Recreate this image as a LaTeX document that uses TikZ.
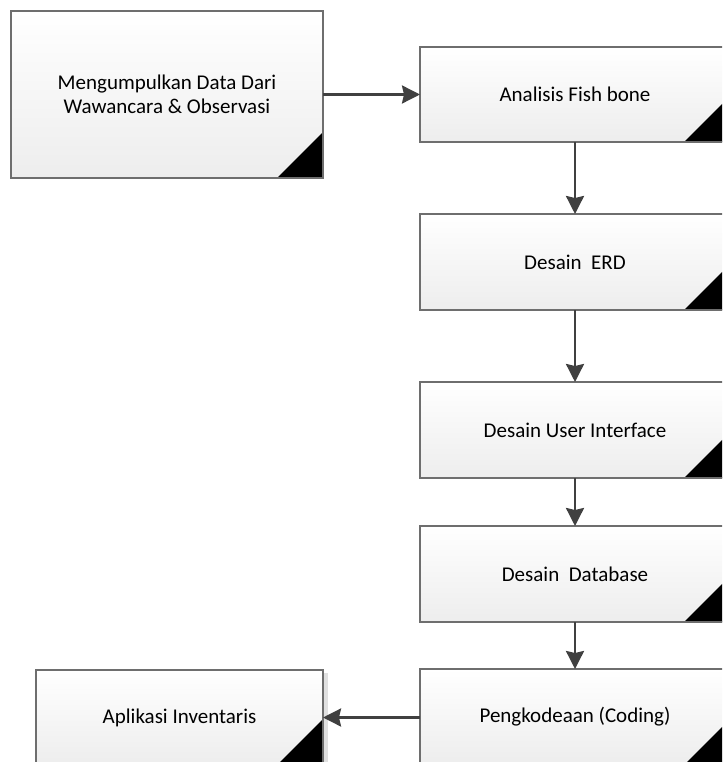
\documentclass[tikz,border=0pt]{standalone}
\usepackage{fontspec}
\setmainfont{Carlito}
\usetikzlibrary{arrows.meta,shadows}
\definecolor{boxline}{HTML}{6E6E6E}
\definecolor{boxbot}{HTML}{EDEDED}
\definecolor{arrowc}{HTML}{404040}
\tikzset{
  procbox/.style={draw=boxline, line width=1.2pt, top color=white, bottom color=boxbot,
    align=center, font=\fontsize{21}{24}\selectfont, inner sep=0pt, outer sep=0pt,
    path picture={\fill[black] (path picture bounding box.south east) -- ++(-46pt,0pt) -- ++(46pt,46pt) -- cycle;}},
  flow/.style={draw=arrowc, line width=2.6pt, -{Stealth[length=18pt,width=18pt,inset=2pt]}}
}
\begin{document}
\begin{tikzpicture}[x=1pt,y=-1pt]
\useasboundingbox (0,0) rectangle (722,762);
\clip (0,0) rectangle (722,762);
\node[procbox, minimum width=312pt, minimum height=167pt] (collect) at (167,94.5) {Mengumpulkan Data Dari\\Wawancara \& Observasi};
\node[procbox, minimum width=310pt, minimum height=95pt] (fish) at (575,94.5) {Analisis Fish bone};
\node[procbox, minimum width=310pt, minimum height=96pt] (erd) at (575,262) {Desain\ \ ERD};
\node[procbox, minimum width=310pt, minimum height=96pt] (ui) at (575,430) {Desain User Interface};
\node[procbox, minimum width=310pt, minimum height=96pt] (db) at (575,574) {Desain\ \ Database};
\node[procbox, minimum width=310pt, minimum height=96pt] (code) at (575,717) {Pengkodeaan (Coding)};
\node[procbox, minimum width=287pt, minimum height=95pt,
  general shadow={fill=black!12, shadow xshift=5pt, shadow yshift=-3pt}] (app) at (179.5,717.5) {Aplikasi Inventaris};
\draw[flow] (collect.east |- fish.west) -- (fish.west);
\draw[flow] (fish) -- (erd);
\draw[flow] (erd) -- (ui);
\draw[flow] (ui) -- (db);
\draw[flow] (db) -- (code);
\draw[flow] (code.west |- app.east) -- (app.east);
\end{tikzpicture}
\end{document}
